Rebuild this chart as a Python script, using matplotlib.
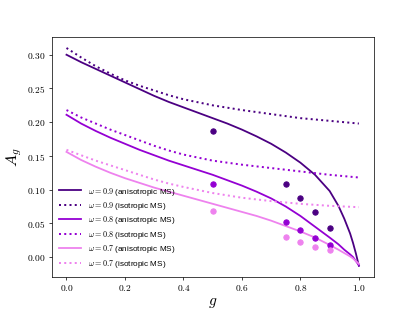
import numpy as np
import matplotlib
matplotlib.use('Agg')
import matplotlib.pyplot as plt
from matplotlib.ticker import FuncFormatter

plt.rcParams['mathtext.fontset'] = 'cm'

# anisotropic MS curves, omega = 0.9 / 0.8 / 0.7
g_aniso = [0.0, 0.05, 0.1, 0.15, 0.2, 0.25, 0.3, 0.35, 0.4, 0.45, 0.5, 0.55, 0.6, 0.65,
           0.7, 0.75, 0.8, 0.85, 0.9, 0.93, 0.95, 0.97, 0.98, 0.99, 1.0]
a09_aniso = [0.300, 0.289, 0.279, 0.269, 0.259, 0.249, 0.239, 0.230, 0.222, 0.214, 0.206, 0.198,
             0.189, 0.179, 0.168, 0.155, 0.140, 0.122, 0.098, 0.076, 0.057, 0.035, 0.021, 0.005, -0.013]
a08_aniso = [0.211, 0.198, 0.187, 0.177, 0.168, 0.159, 0.151, 0.143, 0.136, 0.129, 0.122, 0.114,
             0.106, 0.097, 0.087, 0.075, 0.061, 0.045, 0.029, 0.019, 0.011, 0.004, 0.000, -0.006, -0.012]
a07_aniso = [0.156, 0.144, 0.134, 0.125, 0.117, 0.110, 0.103, 0.097, 0.091, 0.085, 0.079, 0.073,
             0.067, 0.061, 0.054, 0.046, 0.038, 0.029, 0.018, 0.011, 0.006, 0.001, -0.002, -0.006, -0.010]

# isotropic MS curves
g_iso = [0.0, 0.05, 0.1, 0.15, 0.2, 0.25, 0.3, 0.35, 0.4, 0.5, 0.6, 0.7, 0.8, 0.9, 1.0]
a09_iso = [0.310, 0.296, 0.283, 0.272, 0.262, 0.254, 0.247, 0.240, 0.234, 0.225, 0.218, 0.212, 0.206, 0.202, 0.198]
a08_iso = [0.218, 0.207, 0.198, 0.189, 0.181, 0.173, 0.165, 0.158, 0.152, 0.143, 0.137, 0.132, 0.127, 0.122, 0.118]
a07_iso = [0.159, 0.151, 0.143, 0.136, 0.129, 0.122, 0.115, 0.109, 0.104, 0.095, 0.088, 0.083, 0.079, 0.076, 0.074]

# simulation points
g_pts = [0.5, 0.75, 0.8, 0.85, 0.9]
p09 = [0.187, 0.108, 0.088, 0.067, 0.043]
p08 = [0.108, 0.052, 0.040, 0.029, 0.018]
p07 = [0.069, 0.030, 0.023, 0.015, 0.010]

omegas = ['0.9', '0.8', '0.7']
colors = ['#4B0082', '#9400D3', '#EE82EE']

fig, ax = plt.subplots(figsize=(6.4, 4.8), dpi=415 / 6.4)

aniso = [a09_aniso, a08_aniso, a07_aniso]
iso = [a09_iso, a08_iso, a07_iso]
pts = [p09, p08, p07]
for om, c, ya, yi, yp in zip(omegas, colors, aniso, iso, pts):
    ax.plot(g_aniso, ya, '-', color=c, lw=2, label=r'$\omega = %s$ (anisotropic MS)' % om)
    ax.plot(g_iso, yi, ':', color=c, lw=2.2, label=r'$\omega = %s$ (isotropic MS)' % om)
    ax.scatter(g_pts, yp, color=c, s=36, zorder=3)

ax.xaxis.set_major_formatter(FuncFormatter(lambda v, p: r'$%.1f$' % v))
ax.yaxis.set_major_formatter(FuncFormatter(lambda v, p: r'$%.2f$' % v))
ax.tick_params(labelsize=10.5)
ax.set_xlabel(r'$g$', fontsize=17, labelpad=2)
ax.set_ylabel(r'$A_g$', fontsize=18)
ax.legend(loc='lower left', frameon=False, prop={'family': 'Liberation Sans', 'size': 9},
          labelspacing=0.3, handlelength=2.7)

plt.savefig('out.png')
